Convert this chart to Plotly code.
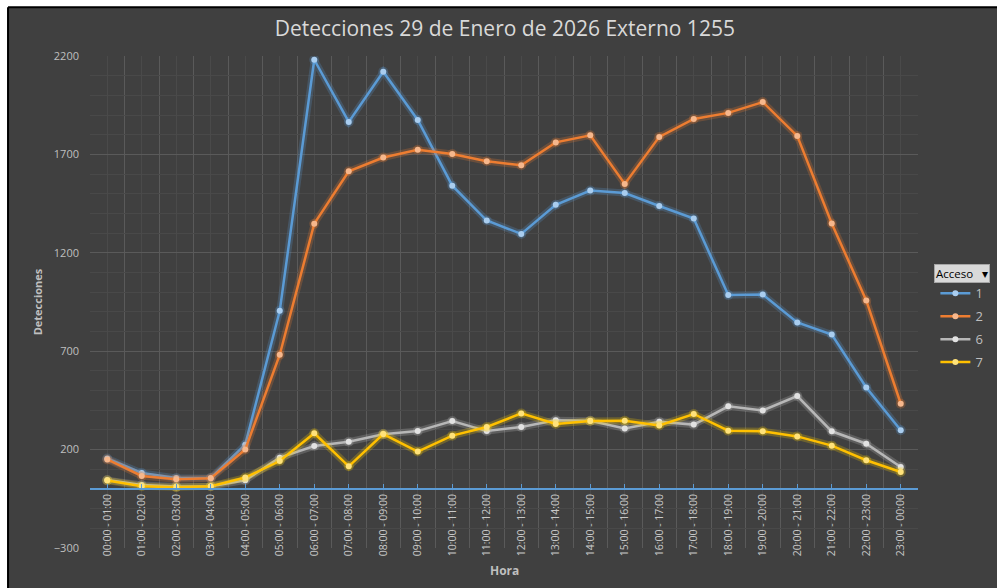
import plotly.graph_objects as go

horas = ["00:00 - 01:00", "01:00 - 02:00", "02:00 - 03:00", "03:00 - 04:00",
         "04:00 - 05:00", "05:00 - 06:00", "06:00 - 07:00", "07:00 - 08:00",
         "08:00 - 09:00", "09:00 - 10:00", "10:00 - 11:00", "11:00 - 12:00",
         "12:00 - 13:00", "13:00 - 14:00", "14:00 - 15:00", "15:00 - 16:00",
         "16:00 - 17:00", "17:00 - 18:00", "18:00 - 19:00", "19:00 - 20:00",
         "20:00 - 21:00", "21:00 - 22:00", "22:00 - 23:00", "23:00 - 00:00"]

acceso_1 = [155, 81, 56, 56, 225, 905, 2181, 1865, 2120, 1875, 1541, 1364,
            1296, 1444, 1516, 1504, 1438, 1374, 985, 988, 846, 785, 516, 298]
acceso_2 = [150, 66, 49, 54, 201, 682, 1348, 1614, 1684, 1724, 1702, 1665,
            1645, 1761, 1797, 1550, 1789, 1880, 1911, 1966, 1794, 1349, 958, 433]
acceso_6 = [45, 20, 12, 14, 44, 159, 218, 240, 278, 294, 345, 294,
            315, 349, 347, 307, 342, 327, 420, 399, 472, 293, 230, 112]
acceso_7 = [43, 14, 9, 14, 58, 142, 283, 115, 279, 190, 271, 315,
            384, 330, 345, 347, 323, 381, 296, 293, 267, 220, 146, 86]

series = [
    ("1", acceso_1, "#5b9bd5", "#a9cdef", "rgba(91,155,213,0.24)"),
    ("2", acceso_2, "#ed7d31", "#f6b78c", "rgba(237,125,49,0.24)"),
    ("6", acceso_6, "#b7b7b7", "#e2e2e2", "rgba(200,200,200,0.22)"),
    ("7", acceso_7, "#ffc000", "#ffe27a", "rgba(255,208,0,0.24)"),
]

BG = "#404040"
x = list(range(len(horas)))

fig = go.Figure()
for name, vals, col, mcol, glow in series:
    fig.add_trace(go.Scatter(
        x=x, y=vals, mode="lines+markers", showlegend=False, hoverinfo="skip",
        line=dict(color=glow, width=7), marker=dict(size=10, color=glow),
    ))
    fig.add_trace(go.Scatter(
        x=x, y=vals, name=name, mode="lines+markers", legendgroup=name,
        line=dict(color=col, width=2.5),
        marker=dict(size=6, color=mcol),
        text=[horas[i] for i in x],
        hovertemplate="%{text}: %{y}<extra>" + name + "</extra>",
    ))

fig.update_layout(
    width=997, height=588,
    margin=dict(l=90, r=79, t=56, b=40, autoexpand=False),
    paper_bgcolor="white",
    plot_bgcolor=BG,
    font=dict(family="Open Sans", color="#bfbfbf"),
    title=dict(text="Detecciones 29 de Enero de 2026 Externo 1255",
               x=0.501, xref="paper", xanchor="center",
               y=0.952, yref="container", yanchor="middle",
               font=dict(size=21, color="#d9d9d9", family="Open Sans")),
    showlegend=True,
    legend=dict(x=1.021, xanchor="left", y=0.548, yanchor="top",
                bgcolor="rgba(0,0,0,0)", font=dict(size=13, color="#bfbfbf"),
                tracegroupgap=3, traceorder="grouped", itemwidth=30),
    shapes=[
        dict(type="rect", xref="paper", yref="paper", layer="below",
             x0=-0.099, x1=1.3, y0=-0.3, y1=1.099,
             fillcolor=BG, line=dict(width=0)),
        dict(type="line", xref="paper", yref="paper", layer="below",
             x0=-0.099, x1=1.3, y0=1.099, y1=1.099,
             line=dict(color="black", width=2)),
        dict(type="line", xref="paper", yref="paper", layer="below",
             x0=-0.099, x1=-0.099, y0=-0.3, y1=1.099,
             line=dict(color="black", width=2)),
    ],
    annotations=[
        dict(text="<b>Hora</b>", xref="paper", yref="paper", x=0.5, y=-0.046,
             showarrow=False, font=dict(size=12, color="#bfbfbf", family="Open Sans"),
             xanchor="center", yanchor="middle"),
        dict(text="Acceso   \u25be", xref="paper", yref="paper", x=1.053, y=0.5576,
             showarrow=False, font=dict(size=11.5, color="#000000", family="Open Sans"),
             bgcolor="#d9d9d9", bordercolor="#a6a6a6", borderwidth=1, borderpad=1,
             xanchor="center", yanchor="middle"),
    ],
)

fig.update_xaxes(
    range=[-0.5, len(horas) - 0.5],
    tickmode="array", tickvals=x, ticktext=horas, tickangle=-90,
    tickfont=dict(size=10.5, color="#c8c8c8"),
    anchor="free", position=0.12,
    showline=True, linecolor="#5b9bd5", linewidth=1.5,
    ticks="inside", ticklen=4, tickcolor="#5b9bd5",
    showgrid=True, gridcolor="#4a4a4a", gridwidth=1,
    minor=dict(tick0=-0.5, dtick=1, showgrid=True, gridcolor="#5a5a5a", gridwidth=1),
    zeroline=False, automargin=False,
)
fig.update_yaxes(
    range=[-300, 2200], tick0=-300, dtick=500,
    tickfont=dict(size=11, color="#bfbfbf"),
    showgrid=True, gridcolor="#5a5a5a", gridwidth=1,
    minor=dict(dtick=100, showgrid=True, gridcolor="#494949", gridwidth=1),
    zeroline=False, showline=False, ticks="", ticklabelstandoff=10,
    title=dict(text="<b>Detecciones</b>", font=dict(size=11, color="#bfbfbf"), standoff=8),
    automargin=False,
)

fig.write_html("out.html", config={"displayModeBar": False},
               post_script="document.body.style.margin='0';document.body.style.overflow='hidden';")
